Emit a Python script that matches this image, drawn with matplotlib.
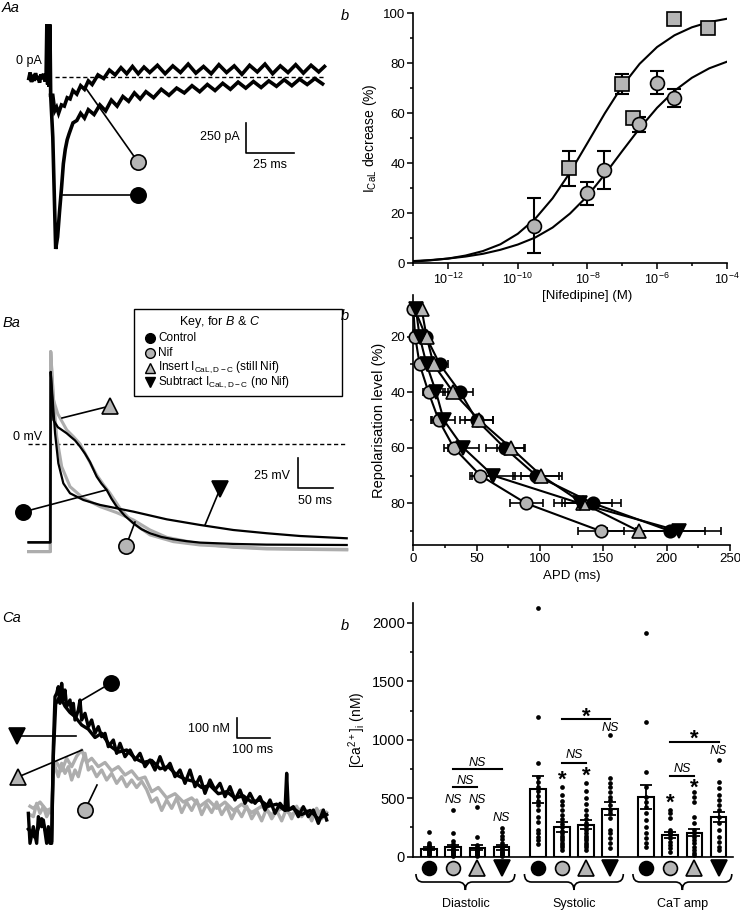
import numpy as np
import matplotlib.pyplot as plt
import matplotlib.transforms as mtransforms
from matplotlib.path import Path
from matplotlib.patches import PathPatch, Rectangle
from matplotlib.ticker import FixedLocator, NullFormatter, MultipleLocator

plt.rcParams['font.family'] = ['Liberation Sans', 'DejaVu Sans']
plt.rcParams['mathtext.fontset'] = 'custom'
plt.rcParams['mathtext.rm'] = 'Liberation Sans'
plt.rcParams['mathtext.it'] = 'Liberation Sans:italic'
plt.rcParams['mathtext.default'] = 'regular'
plt.rcParams['font.size'] = 9
plt.rcParams['axes.linewidth'] = 1.2

W, H = 740, 911
GREY = '#b5b5b5'
TGREY = '#adadad'

# ---------------- data ----------------
# Aa: I_CaL traces (ms, pA)
ica_pre = [(-11, -10), (-10.3, 40), (-9.6, -40), (-8.9, 20), (-8.2, -30), (-7.5, 35),
           (-6.8, -20), (-6.1, 10), (-5.4, -45), (-4.7, 25), (-4.0, -15), (-3.3, 30),
           (-2.6, -35), (-2.0, 10), (-1.6, 440), (-1.2, -60), (-0.8, 440), (-0.4, -80),
           (0.0, 440), (0.4, -150)]
ica_ctrl = [(0.4, -150), (1.5, -500), (3, -1430), (4, -1330), (5, -1120), (6, -930), (7, -720),
            (8, -600), (9, -520), (10, -470), (12, -380), (14, -360), (16, -300), (18, -340),
            (20, -270), (23, -310), (26, -230), (29, -280), (32, -190), (35, -240), (38, -160),
            (41, -200), (44, -130), (47, -180), (50, -120), (54, -170), (58, -100), (62, -150),
            (66, -90), (70, -130), (74, -70), (78, -120), (82, -60), (86, -110), (90, -50),
            (94, -100), (98, -40), (102, -90), (106, -35), (110, -85), (114, -30), (118, -75),
            (122, -20), (126, -70), (130, -15), (134, -60), (138, -10), (142, -55)]
ica_nif = [(0.4, -150), (1.5, -150), (2.5, -280), (3.5, -250), (4.5, -300), (6, -230), (7.5, -240),
           (9, -170), (10.5, -180), (12, -110), (14, -140), (16, -70), (18, -100), (20, -30),
           (22, -60), (25, 20), (28, -10), (31, 60), (34, 20), (37, 80), (40, 30), (43, 90),
           (46, 30), (49, 85), (52, 40), (56, 100), (60, 30), (64, 95), (68, 40), (72, 110),
           (76, 35), (80, 90), (84, 30), (88, 105), (92, 40), (96, 95), (100, 25), (104, 100),
           (108, 45), (112, 110), (116, 30), (120, 95), (124, 40), (128, 105), (132, 35),
           (136, 100), (140, 45), (143, 90)]

# Ab: dose-response (M, % decrease)
conc_sq = [3e-9, 1e-7, 2e-7, 3e-6, 3e-5]
dec_sq = [38, 71.6, 58, 97.7, 94]
err_sq = [7, 4, 2, 0, 0]
conc_ci = [3e-10, 1e-8, 3e-8, 3e-7, 1e-6, 3e-6]
dec_ci = [15, 28, 37.3, 55.7, 72.3, 66]
err_ci = [11, 4.6, 7.5, 3, 4.5, 3.6]
fit_logc = [-13, -12.5, -12, -11.5, -11, -10.5, -10, -9.5, -9, -8.5, -8, -7.5, -7, -6.5, -6,
            -5.5, -5, -4.5, -4]
fit_sq = [0.7, 1.2, 1.9, 3.1, 4.9, 7.6, 11.8, 17.8, 26.0, 36.3, 48.1, 60.0, 70.9, 79.8, 86.5,
          91.2, 94.4, 96.5, 97.8]
fit_ci = [0.9, 1.3, 1.9, 2.7, 3.8, 5.4, 7.5, 10.3, 14.3, 19.9, 26.9, 35.6, 44.9, 54.0, 62.2,
          69.0, 74.2, 78.0, 80.6]

# Ba: action potentials (ms, mV)
ap_ctrl = [(-31, -82), (-0.5, -82), (0, 60), (3.7, 20), (10, 14), (22.4, 8.9), (28, 6), (34, 3),
           (41.1, -2.2), (48, -8), (55, -15), (64.4, -27.2), (71, -33), (78.4, -38.3),
           (85, -45.5), (92.4, -52.2), (104, -60), (115.8, -66.1), (127, -71), (139.1, -74.4),
           (155, -77.5), (171.8, -79.4), (190, -81), (209.2, -82.2), (255.8, -83.3),
           (302.5, -83.9), (414.6, -84.2)]
ap_ins = [(-31, -89.7), (-0.5, -89.7), (0, 77), (3.7, 37), (10, 25), (22.4, 11.7), (32, 6),
          (41.1, 0), (52, -12), (64.4, -25.8), (74, -34), (83, -41), (97, -53.6),
          (115.8, -66), (139.1, -75.8), (171.8, -81.4), (209.2, -84.2), (302.5, -87),
          (414.6, -87.8)]
ap_sub = [(-31, -82), (-0.5, -82), (0, 60), (2.8, 36.7), (6.1, 8.9), (10.7, -16.1),
          (17.7, -32.8), (27.1, -41.1), (45.8, -46.7), (69.1, -50.8), (115.8, -56.4),
          (162.5, -62.8), (209.2, -67.5), (255.8, -71.7), (302.5, -74.4), (349.2, -76.7),
          (414.6, -78.6)]
ap_nif = [(-31, -89.7), (-0.5, -89.7), (0, 77), (3.7, 39.4), (8.4, 6.1), (15.4, -18.9),
          (27.1, -35.6), (45.8, -45.3), (69.1, -52.2), (92.4, -57.2), (115.8, -63.3),
          (139.1, -71.7), (162.5, -77.8), (209.2, -83.3), (255.8, -86.1), (302.5, -87.5),
          (414.6, -88.3)]

# Bb: APD at each repolarisation level (ms)
rep_level = [10, 20, 30, 40, 50, 60, 70, 80, 90]
apd_ctrl = [1, 10, 21, 37, 50, 72, 97, 142, 203]
apd_ctrl_err = [1, 2, 6, 10, 13, 15, 18, 22, 27]
apd_nif = [0, 1.5, 5, 12, 20, 32, 53, 89, 148]
apd_nif_err = [0.5, 1, 2, 4, 6, 8, 8, 13, 18]
apd_ins = [6.5, 10.5, 16, 31.5, 52, 77, 101, 134, 178]
apd_ins_err = [1, 2, 4, 8, 11, 11, 16, 23, 25]
apd_sub = [2, 5, 10.5, 18, 24, 39.5, 63, 131.5, 210]
apd_sub_err = [0.5, 1, 3, 7, 9, 12, 17, 14, 33]

# Ca: calcium transients (ms, nM)
ca_ctrl = [(-70, 176), (-65, 32), (-55, 112), (-45, 32), (-40, 160), (-30, 112), (-25, 144),
           (-15, 32), (-10, 112), (-5, 32), (0, 32), (5, 496), (10, 736), (15, 752), (20, 784),
           (25, 704), (30, 800), (35, 720), (40, 768), (45, 688), (55, 720), (60, 656),
           (65, 704), (70, 624), (80, 672), (85, 720), (90, 624), (100, 656), (110, 592),
           (120, 624), (130, 560), (140, 592), (150, 544), (160, 560), (170, 496), (185, 528),
           (195, 464), (205, 512), (220, 448), (235, 480), (250, 432), (265, 464), (280, 400),
           (295, 432), (310, 384), (325, 448), (340, 384), (355, 416), (370, 352), (385, 384),
           (400, 320), (415, 384), (430, 304), (445, 352), (460, 272), (475, 336), (490, 288),
           (505, 320), (520, 256), (535, 304), (550, 240), (565, 288), (580, 224), (595, 272),
           (610, 224), (625, 256), (640, 192), (655, 240), (670, 176), (685, 224), (700, 192),
           (705, 368), (710, 192), (725, 208), (740, 160), (755, 208), (770, 160), (785, 192),
           (800, 128), (815, 192), (825, 144)]
ca_sub = [(-70, 100), (-50, 60), (-30, 150), (-10, 50), (0, 40), (5, 450), (12, 700), (25, 740),
          (40, 690), (55, 660), (70, 640), (90, 600), (110, 580), (130, 540), (150, 560),
          (175, 500), (200, 470), (225, 480), (250, 440), (275, 420), (300, 430), (325, 390),
          (350, 400), (375, 360), (400, 340), (425, 330), (450, 300), (475, 310), (500, 270),
          (525, 280), (550, 250), (575, 260), (600, 230), (625, 240), (650, 210), (675, 220),
          (700, 190), (725, 200), (750, 170), (775, 190), (800, 150), (825, 170)]
ca_nif = [(-65, 170), (-55, 160), (-45, 224), (-35, 176), (-25, 208), (-15, 160), (-5, 192),
          (0, 176), (5, 384), (10, 400), (20, 352), (30, 416), (40, 368), (50, 400), (60, 336),
          (70, 384), (80, 352), (90, 416), (100, 464), (110, 384), (120, 400), (135, 352),
          (150, 384), (165, 336), (180, 368), (195, 320), (210, 352), (225, 304), (240, 336),
          (255, 300), (270, 330), (285, 290), (300, 230), (315, 250), (330, 190), (345, 240),
          (360, 200), (375, 250), (390, 180), (405, 230), (420, 190), (435, 240), (450, 170),
          (465, 220), (480, 180), (495, 230), (510, 170), (525, 210), (540, 150), (555, 200),
          (570, 160), (585, 210), (600, 150), (615, 190), (630, 140), (645, 200), (660, 150),
          (675, 190), (690, 140), (705, 200), (720, 150), (735, 210), (750, 160), (765, 190),
          (780, 140), (795, 200), (810, 150), (825, 180)]
ca_ins = [(-65, 210), (-55, 200), (-35, 230), (-15, 190), (0, 200), (5, 400), (15, 420),
          (30, 380), (45, 440), (60, 400), (75, 450), (90, 480), (105, 420), (120, 440),
          (140, 400), (160, 420), (180, 380), (200, 400), (220, 360), (240, 380), (260, 340),
          (280, 350), (300, 280), (320, 300), (345, 250), (370, 270), (395, 230), (420, 250),
          (445, 210), (470, 240), (495, 200), (520, 230), (545, 190), (570, 220), (600, 180),
          (630, 210), (660, 170), (690, 200), (720, 170), (750, 200), (780, 160), (810, 190),
          (825, 170)]

# Cb: [Ca2+]i summary (nM)
groups = ['Diastolic', 'Systolic', 'CaT amp']
diast_mean = [70, 80, 78, 80]
diast_sem = [15, 22, 22, 20]
syst_mean = [578, 253, 275, 412]
syst_sem = [115, 40, 38, 55]
amp_mean = [511, 185, 205, 341]
amp_sem = [100, 25, 30, 45]
diast_dots = [[214, 120, 100, 90, 80, 72, 65, 58, 50, 45, 38, 30, 25, 18],
              [400, 200, 137, 108, 70, 60, 66, 55, 45, 38, 30, 22, 15, 10],
              [422, 171, 100, 85, 72, 62, 52, 45, 38, 30, 24, 18, 12, 8],
              [243, 208, 177, 148, 120, 91, 75, 63, 50, 40, 30, 22, 15, 10]]
syst_dots = [[2126, 1199, 799, 680, 640, 600, 560, 520, 480, 440, 400, 340, 300, 230, 200, 170, 140, 110],
             [600, 530, 480, 440, 400, 360, 320, 280, 250, 220, 200, 180, 160, 140, 120, 100, 80, 60],
             [634, 560, 500, 450, 400, 360, 320, 290, 260, 230, 200, 180, 160, 140, 120, 100, 80, 60],
             [1042, 671, 628, 600, 556, 514, 485, 442, 400, 371, 328, 228, 200, 157, 114, 71]]
amp_dots = [[1912, 1156, 728, 600, 514, 471, 428, 371, 314, 257, 200, 157, 114, 86],
            [400, 371, 328, 228, 214, 200, 185, 157, 128, 100, 71, 43],
            [557, 514, 471, 342, 285, 228, 200, 171, 143, 114, 86, 57, 29, 14],
            [828, 642, 585, 528, 485, 442, 400, 342, 285, 228, 171, 128, 86, 57]]

conds = [('o', 'k'), ('o', GREY), ('^', GREY), ('v', 'k')]


def box(x0, y0, x1, y1):
    return [x0 / W, 1 - y1 / H, (x1 - x0) / W, (y1 - y0) / H]


def xy(pairs):
    t, v = zip(*pairs)
    return list(t), list(v)


fig = plt.figure(figsize=(W / 100, H / 100), dpi=100)

# ---------------- Aa ----------------
ax = fig.add_axes(box(0, 0, 360, 290))
ax.set_xlim(-26, 161.5)
ax.set_ylim(-1772, 644)
ax.axis('off')
ax.plot([2.6, 143], [0, 0], color='k', lw=1, ls=(0, (3, 2)))
for tr in (ica_nif, ica_ctrl, ica_pre):
    t, v = xy(tr)
    ax.plot(t, v, color='k', lw=2.6, solid_joinstyle='miter')
ax.plot([102, 102, 127], [-378, -628, -628], color='k', lw=1.2)

# ---------------- Ba ----------------
ax = fig.add_axes(box(0, 290, 360, 590))
ax.set_xlim(-71, 433.2)
ax.set_ylim(-121.7, 128.3)
ax.axis('off')
ax.plot([-31.8, 415], [0, 0], color='k', lw=1, ls=(0, (3, 2)))
for tr, c, lw in ((ap_nif, TGREY, 2.2), (ap_ins, TGREY, 2.2), (ap_ctrl, 'k', 1.6), (ap_sub, 'k', 1.6)):
    t, v = xy(tr)
    ax.plot(t, v, color=c, lw=lw)
ax.plot([346, 346, 396], [-11.4, -36.4, -36.4], color='k', lw=1.2)

# ---------------- Ca ----------------
ax = fig.add_axes(box(0, 610, 360, 880))
ax.set_xlim(-155, 925)
ax.set_ylim(-144, 1152)
ax.axis('off')
for tr, c in ((ca_nif, TGREY), (ca_ins, TGREY), (ca_sub, 'k'), (ca_ctrl, 'k')):
    t, v = xy(tr)
    ax.plot(t, v, color=c, lw=2.4)
ax.plot([555, 555, 655], [636, 536, 536], color='k', lw=1.2)

# ---------------- Ab ----------------
ax = fig.add_axes(box(413.3, 13.3, 726.7, 263.3))
ax.set_xscale('log')
fit_c = [10.0 ** v for v in fit_logc]
ax.plot(fit_c, fit_sq, color='k', lw=1.5)
ax.plot(fit_c, fit_ci, color='k', lw=1.5)
ax.errorbar(conc_sq, dec_sq, yerr=err_sq, fmt='none', ecolor='k', elinewidth=1.5, capsize=5,
            capthick=1.5)
ax.errorbar(conc_ci, dec_ci, yerr=err_ci, fmt='none', ecolor='k', elinewidth=1.5, capsize=5,
            capthick=1.5)
ax.plot(conc_sq, dec_sq, 's', ms=10.5, mfc=GREY, mec='k', mew=1.2, clip_on=False, zorder=4)
ax.plot(conc_ci, dec_ci, 'o', ms=10, mfc=GREY, mec='k', mew=1.2, clip_on=False, zorder=4)
ax.set_xlim(1e-13, 1e-4)
ax.set_ylim(0, 100)
ax.set_xticks([1e-12, 1e-10, 1e-8, 1e-6, 1e-4])
ax.xaxis.set_minor_locator(FixedLocator([1e-13, 1e-11, 1e-9, 1e-7, 1e-5]))
ax.xaxis.set_minor_formatter(NullFormatter())
ax.set_yticks(range(0, 101, 20))
ax.yaxis.set_minor_locator(MultipleLocator(10))
ax.set_xlabel('[Nifedipine] (M)', fontsize=9.5)
ax.xaxis.set_label_coords(0.554, -0.105)
ax.set_ylabel(r'I$_{\rm CaL}$ decrease (%)', fontsize=10, labelpad=3)

# ---------------- Bb ----------------
ax2 = fig.add_axes(box(413.3, 295, 730, 545))
ax2.patch.set_visible(False)
series = [(apd_ctrl, apd_ctrl_err), (apd_nif, apd_nif_err), (apd_ins, apd_ins_err),
          (apd_sub, apd_sub_err)]
for (apd, err), (m, c) in zip(series, conds):
    ax2.errorbar(apd, rep_level, xerr=err, fmt='none', ecolor='k', elinewidth=1.2, capsize=3,
                 capthick=1.2, zorder=2)
    ax2.plot(apd, rep_level, color='k', lw=1.5, zorder=3)
for (apd, err), (m, c) in zip(series, conds):
    ax2.plot(apd, rep_level, m, ms=9.5 if m != 'o' else 9, mfc=c, mec='k', mew=1.2,
             clip_on=False, zorder=4)
ax2.set_xlim(0, 250)
ax2.set_ylim(95, 5)
ax2.set_yticks([20, 40, 60, 80])
ax2.yaxis.set_minor_locator(FixedLocator([10, 30, 50, 70, 90]))
ax2.set_xticks(range(0, 251, 50))
ax2.xaxis.set_minor_locator(MultipleLocator(25))
ax2.set_xlabel('APD (ms)', fontsize=9.5, labelpad=3)
ax2.set_ylabel('Repolarisation level (%)', fontsize=10.5, labelpad=3)

# ---------------- Cb ----------------
ax3 = fig.add_axes(box(413.3, 603, 733, 856.7))
offsets = [0, 4.5, 9]
allmeans = [diast_mean, syst_mean, amp_mean]
allsems = [diast_sem, syst_sem, amp_sem]
alldots = [diast_dots, syst_dots, amp_dots]
bar_x = []
for g in range(3):
    xs = [offsets[g] + i for i in range(4)]
    bar_x.append(xs)
    ax3.bar(xs, allmeans[g], width=0.65, color='white', edgecolor='k', lw=1.5, zorder=2)
    ax3.errorbar(xs, allmeans[g], yerr=allsems[g], fmt='none', ecolor='k', elinewidth=1.3,
                 capsize=4, capthick=1.3, zorder=3)
    for x, d in zip(xs, alldots[g]):
        ax3.plot([x] * len(d), d, 'o', ms=3.4, color='k', mew=0, zorder=4, clip_on=False)
ax3.set_xlim(-0.66, 12.6)
ax3.set_ylim(0, 2170)
ax3.set_xticks([])
ax3.set_yticks(range(0, 2001, 500))
ax3.yaxis.set_minor_locator(MultipleLocator(250))
ax3.set_ylabel(r'[Ca$^{2+}$]$_{\rm i}$ (nM)', fontsize=10, labelpad=3)

# condition icons under the bars
trans = mtransforms.blended_transform_factory(ax3.transData, ax3.transAxes)
for xs in bar_x:
    for x, (m, c) in zip(xs, conds):
        ax3.plot(x, -0.045, m, ms=10 if m == 'o' else 11, mfc=c, mec='k', mew=1.2,
                 transform=trans, clip_on=False)


def sig_line(ax, x0, x1, y, label, ly, size):
    ax.plot([x0, x1], [y, y], color='k', lw=1.5)
    sig_text(ax, (x0 + x1) / 2, ly, label, size)


def sig_text(ax, x, y, label, size):
    if label == 'NS':
        ax.text(x, y, 'NS', ha='center', va='center', fontsize=size, style='italic')
    else:
        ax.text(x, y, '*', ha='center', va='center', fontsize=size, fontweight='bold')


sig_line(ax3, 1, 3, 753, 'NS', 805, 9)
sig_line(ax3, 1, 2, 597, 'NS', 650, 9)
sig_text(ax3, 1, 485, 'NS', 9)
sig_text(ax3, 2, 485, 'NS', 9)
sig_text(ax3, 3, 328, 'NS', 9)
sig_line(ax3, 5.5, 6.5, 799, 'NS', 870, 9)
sig_line(ax3, 5.5, 7.5, 1179, '*', 1195, 16)
sig_text(ax3, 5.5, 655, '*', 16)
sig_text(ax3, 6.5, 685, '*', 16)
sig_text(ax3, 7.5, 1099, 'NS', 9)
sig_line(ax3, 10, 11, 691, 'NS', 750, 9)
sig_line(ax3, 10, 12, 985, '*', 1005, 16)
sig_text(ax3, 10, 455, '*', 16)
sig_text(ax3, 11, 590, '*', 16)
sig_text(ax3, 12, 905, 'NS', 9)

for a in (ax, ax2, ax3):
    a.spines['top'].set_visible(False)
    a.spines['right'].set_visible(False)
    a.tick_params(which='major', direction='out', length=4, width=1.1, labelsize=9.5, pad=2)
    a.tick_params(which='minor', direction='out', length=2.5, width=1.1)
ax.tick_params(axis='x', labelsize=9)
ax3.tick_params(axis='y', labelsize=10.5)
ax3.tick_params(axis='x', which='both', length=0)

# ---------------- overlay: labels, pointers, key ----------------
ov = fig.add_axes([0, 0, 1, 1])
ov.set_xlim(0, W)
ov.set_ylim(H, 0)
ov.axis('off')

for x, y, s in ((2, 8, 'Aa'), (341, 16, 'b'), (3, 323, 'Ba'), (341, 316, 'b'),
                (2, 618, 'Ca'), (341, 626, 'b')):
    ov.text(x, y, s, fontsize=10.5, style='italic', va='center', ha='left')

ov.text(16, 61, '0 pA', fontsize=9, va='center')
ov.text(240, 137, '250 pA', fontsize=9, va='center', ha='right')
ov.text(270, 165, '25 ms', fontsize=9, va='center', ha='center')
ov.text(13, 437, '0 mV', fontsize=9, va='center')
ov.text(290, 476, '25 mV', fontsize=9, va='center', ha='right')
ov.text(315, 501, '50 ms', fontsize=9, va='center', ha='center')
ov.text(230, 729, '100 nM', fontsize=9, va='center', ha='right')
ov.text(253, 750, '100 ms', fontsize=9, va='center', ha='center')


def pointer(x0, y0, x1, y1, m, c, ms):
    ov.plot([x0, x1], [y0, y1], color='k', lw=1.2)
    ov.plot(x1, y1, m, ms=ms, mfc=c, mec='k', mew=1.2)


pointer(85, 87, 138, 162, 'o', GREY, 11)
pointer(63, 195, 138, 195, 'o', 'k', 11)
pointer(62, 418, 110, 406, '^', GREY, 12)
pointer(106, 490, 23, 512, 'o', 'k', 11)
pointer(205, 525, 220, 489, 'v', 'k', 12)
pointer(135, 522, 126, 546, 'o', GREY, 11)
pointer(82, 700, 111, 683, 'o', 'k', 11)
pointer(76, 736, 17, 736, 'v', 'k', 12)
pointer(82, 750, 18, 777, '^', GREY, 12)
pointer(97, 785, 85, 810, 'o', GREY, 11)

# key
ov.add_patch(Rectangle((134, 308.5), 207.5, 87.5, fill=False, ec='k', lw=1))
ov.text(220, 322, r'Key, for $\it{B}$ & $\it{C}$', fontsize=9, ha='center', va='center')
key_labels = ['Control', 'Nif', r'Insert I$_{\rm CaL,D-C}$ (still Nif)',
              r'Subtract I$_{\rm CaL,D-C}$ (no Nif)']
for i, ((m, c), lab) in enumerate(zip(conds, key_labels)):
    y = 338 + i * 14.8
    ov.plot(150, y, m, ms=7, mfc=c, mec='k', mew=1)
    ov.text(158, y, lab, fontsize=8.5, va='center', ha='left')


# braces under the bar groups
def brace(x0, x1, ytop, ymid, ytip, r=7):
    xc = (x0 + x1) / 2
    verts = [(x0, ytop), (x0, ymid), (x0 + r, ymid), (xc - r, ymid), (xc, ymid), (xc, ytip),
             (xc, ymid), (xc + r, ymid), (x1 - r, ymid), (x1, ymid), (x1, ytop)]
    codes = [Path.MOVETO, Path.CURVE3, Path.CURVE3, Path.LINETO, Path.CURVE3, Path.CURVE3,
             Path.CURVE3, Path.CURVE3, Path.LINETO, Path.CURVE3, Path.CURVE3]
    ov.add_patch(PathPatch(Path(verts, codes), fill=False, ec='k', lw=1.2))


to_px = ax3.transData
for g, xs in enumerate(bar_x):
    left = fig.transFigure.inverted().transform(to_px.transform((xs[0] - 0.55, 0)))[0] * W
    right = fig.transFigure.inverted().transform(to_px.transform((xs[-1] + 0.55, 0)))[0] * W
    brace(left, right, 874, 882, 890)
    ov.text((left + right) / 2, 904, groups[g], fontsize=9, ha='center', va='center')

fig.savefig('out.png', dpi=100)
